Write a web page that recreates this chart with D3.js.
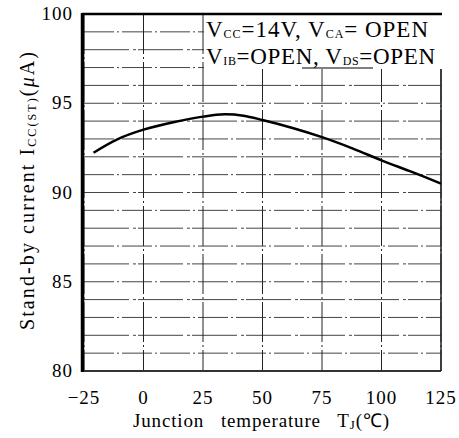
<!DOCTYPE html>
<html><head><meta charset="utf-8">
<script src="https://cdn.jsdelivr.net/npm/d3@7/dist/d3.min.js"></script>
<style>body{margin:0;background:#fff}svg{display:block}text{font-family:"Liberation Serif","Times New Roman",serif;fill:#000;white-space:pre}</style>
</head><body><svg id="c" width="459" height="438"></svg>
<script>
const temps = [-21, -11, 0, 13, 25, 34, 42, 50, 63, 75, 88, 100, 113, 125];
const current = [92.23, 92.98, 93.52, 93.95, 94.25, 94.38, 94.3, 94.06, 93.6, 93.1, 92.46, 91.8, 91.14, 90.5];
const xTicks = [-25, 0, 25, 50, 75, 100, 125];
const yTicks = [80, 85, 90, 95, 100];
const yGrid = d3.range(80, 101, 1);

const svg = d3.select("#c");
const x = d3.scaleLinear().domain([-25, 125]).range([84, 441]);
const y = d3.scaleLinear().domain([80, 100]).range([371, 14]);

// grid
const g = svg.append("g");
g.selectAll("line.h").data(yGrid).join("line")
  .attr("x1", x(-25)).attr("x2", x(125))
  .attr("y1", d => y(d)).attr("y2", d => y(d))
  .attr("stroke", "#444").attr("stroke-width", 1)
  .attr("stroke-dasharray", (d, i) => i % 2 ? "30,3,2,3" : "45,4,3,2");
g.selectAll("line.v").data(xTicks).join("line")
  .attr("x1", d => x(d)).attr("x2", d => x(d))
  .attr("y1", y(100)).attr("y2", y(80))
  .attr("stroke", "#222").attr("stroke-width", 1)
  .attr("stroke-dasharray", "40,3,2,3");

// annotation background
svg.append("rect").attr("x", x(25) + 1).attr("y", y(100) + 1)
  .attr("width", 460 - x(25)).attr("height", 69 - y(100) - 1).attr("fill", "#fff");

// frame
svg.append("line").attr("x1", x(-25) - 2).attr("x2", x(125) + 1).attr("y1", y(100)).attr("y2", y(100)).attr("stroke", "#000").attr("stroke-width", 2.5);
svg.append("line").attr("x1", x(-25) - 1.5).attr("x2", x(-25) - 1.5).attr("y1", y(100) - 1).attr("y2", y(80) + 1).attr("stroke", "#000").attr("stroke-width", 3.5);
svg.append("line").attr("x1", x(-25)).attr("x2", x(125)).attr("y1", y(80)).attr("y2", y(80)).attr("stroke", "#333").attr("stroke-width", 2);
svg.append("line").attr("x1", x(125)).attr("x2", x(125)).attr("y1", 69).attr("y2", y(80)).attr("stroke", "#222").attr("stroke-width", 1.5);

// curve
const pts = temps.map((t, i) => [t, current[i]]);
svg.append("path").datum(pts)
  .attr("d", d3.line().x(d => x(d[0])).y(d => y(d[1])).curve(d3.curveCatmullRom.alpha(0.5)))
  .attr("fill", "none").attr("stroke", "#000").attr("stroke-width", 2.5);

// tick labels
svg.selectAll("text.yt").data(yTicks).join("text")
  .attr("x", 73).attr("y", d => y(d) + 6).attr("text-anchor", "end")
  .attr("font-size", 19).attr("letter-spacing", 1).text(d => d);
svg.selectAll("text.xt").data(xTicks).join("text")
  .attr("x", d => x(d)).attr("y", 404).attr("text-anchor", "middle")
  .attr("font-size", 19).attr("letter-spacing", 1).text(d => d < 0 ? "\u2212" + Math.abs(d) : d);

// axis titles
const xt = svg.append("text").attr("x", 133).attr("y", 427).attr("font-size", 19)
  .attr("textLength", 256).attr("lengthAdjust", "spacing");
xt.append("tspan").text("Junction   temperature   T");
xt.append("tspan").attr("font-size", 13).attr("dy", 2).text("J");
xt.append("tspan").attr("dy", -2).text("(\u2103)");

const yt = svg.append("text").attr("transform", "translate(34,330) rotate(-90)").attr("font-size", 20)
  .attr("textLength", 278).attr("lengthAdjust", "spacing");
yt.append("tspan").text("Stand-by current I");
yt.append("tspan").attr("font-size", 12).attr("dy", 2).text("CC(ST)");
yt.append("tspan").attr("dy", -2).text("(");
yt.append("tspan").attr("font-style", "italic").text("\u03bc");
yt.append("tspan").text("A)");

// annotation
function ann(yy, parts, len) {
  const t = svg.append("text").attr("x", 206).attr("y", yy).attr("font-size", 23)
    .attr("textLength", len).attr("lengthAdjust", "spacing");
  parts.forEach(p => {
    const s = t.append("tspan").text(p[0]);
    if (p[1]) s.attr("font-size", 12).attr("dy", 1);
    if (p[2]) s.attr("dy", -1);
  });
}
ann(37, [["V"], ["CC", 1], ["=14V, V", 0, 1], ["CA", 1], ["= OPEN", 0, 1]], 222);
ann(64, [["V"], ["IB", 1], ["=OPEN, V", 0, 1], ["DS", 1], ["=OPEN", 0, 1]], 229);
svg.append("line").attr("x1", 302).attr("x2", 373).attr("y1", 68).attr("y2", 68).attr("stroke", "#000").attr("stroke-width", 1.2);
</script></body></html>
